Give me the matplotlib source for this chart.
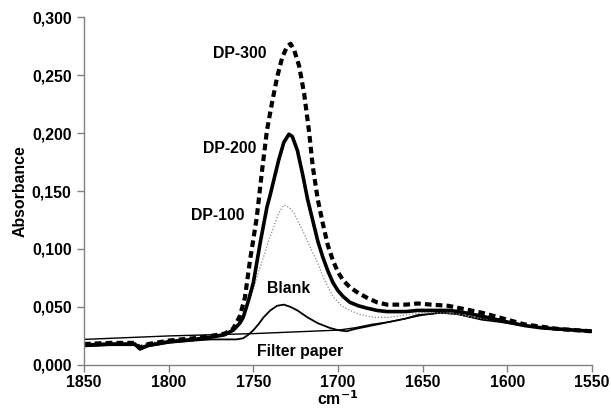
import matplotlib
matplotlib.use("Agg")
import matplotlib.pyplot as plt
from matplotlib.ticker import FuncFormatter

plt.rcParams['font.family'] = ['Liberation Sans', 'DejaVu Sans']

# ---- data ----
dp300_w = [1850, 1835, 1820, 1817, 1812, 1800, 1785, 1775, 1767, 1762, 1758, 1755, 1752, 1748, 1745, 1742,
           1739, 1736, 1733, 1730, 1728, 1726, 1723, 1720, 1717, 1715, 1712, 1709, 1706, 1703, 1700, 1697,
           1693, 1688, 1683, 1677, 1671, 1665, 1660, 1653, 1645, 1635, 1625, 1615, 1600, 1590, 1580, 1570,
           1560, 1550]
dp300_a = [0.018, 0.019, 0.019, 0.015, 0.018, 0.021, 0.023, 0.025, 0.027, 0.031, 0.042, 0.058, 0.090, 0.127,
           0.166, 0.202, 0.226, 0.248, 0.265, 0.275, 0.277, 0.272, 0.258, 0.234, 0.200, 0.172, 0.143, 0.122,
           0.103, 0.090, 0.080, 0.073, 0.067, 0.062, 0.058, 0.054, 0.052, 0.052, 0.052, 0.053, 0.052, 0.051,
           0.048, 0.045, 0.039, 0.035, 0.033, 0.031, 0.030, 0.029]

dp200_w = [1850, 1835, 1820, 1817, 1812, 1800, 1785, 1775, 1767, 1762, 1758, 1756, 1753, 1750, 1746, 1742,
           1740, 1737, 1735, 1732, 1729, 1727, 1724, 1721, 1718, 1715, 1712, 1709, 1706, 1703, 1700, 1697,
           1693, 1688, 1683, 1677, 1671, 1660, 1653, 1645, 1634, 1625, 1615, 1600, 1590, 1580, 1570, 1560,
           1550]
dp200_a = [0.017, 0.018, 0.018, 0.014, 0.017, 0.020, 0.022, 0.024, 0.026, 0.030, 0.036, 0.041, 0.055, 0.071,
           0.105, 0.136, 0.147, 0.165, 0.177, 0.192, 0.199, 0.197, 0.185, 0.165, 0.143, 0.125, 0.107, 0.093,
           0.081, 0.071, 0.064, 0.059, 0.054, 0.051, 0.049, 0.047, 0.046, 0.046, 0.047, 0.047, 0.047, 0.045,
           0.042, 0.037, 0.034, 0.032, 0.031, 0.030, 0.029]

dp100_w = [1850, 1835, 1820, 1817, 1812, 1800, 1785, 1775, 1767, 1760, 1755, 1750, 1747, 1744, 1741, 1738,
           1735, 1732, 1729, 1726, 1722, 1719, 1716, 1712, 1708, 1703, 1698, 1693, 1686, 1679, 1670, 1660,
           1650, 1640, 1630, 1620, 1610, 1600, 1590, 1580, 1570, 1560, 1550]
dp100_a = [0.019, 0.019, 0.019, 0.016, 0.019, 0.021, 0.023, 0.024, 0.025, 0.030, 0.045, 0.065, 0.080, 0.093,
           0.107, 0.119, 0.131, 0.138, 0.136, 0.131, 0.119, 0.110, 0.100, 0.088, 0.073, 0.059, 0.051, 0.047,
           0.043, 0.041, 0.041, 0.043, 0.045, 0.045, 0.044, 0.041, 0.039, 0.037, 0.034, 0.032, 0.031, 0.030, 0.029]

blank_w = [1850, 1835, 1820, 1817, 1812, 1800, 1785, 1775, 1765, 1760, 1756, 1753, 1750, 1747, 1744, 1740,
           1736, 1732, 1728, 1724, 1718, 1712, 1705, 1700, 1695, 1690, 1680, 1670, 1660, 1653, 1645, 1640,
           1630, 1624, 1615, 1604, 1595, 1585, 1575, 1565, 1550]
blank_a = [0.016, 0.017, 0.017, 0.013, 0.016, 0.019, 0.021, 0.022, 0.022, 0.022, 0.023, 0.026, 0.030, 0.035,
           0.041, 0.047, 0.051, 0.052, 0.050, 0.047, 0.041, 0.036, 0.032, 0.030, 0.029, 0.031, 0.034, 0.037,
           0.040, 0.043, 0.044, 0.045, 0.044, 0.042, 0.039, 0.037, 0.035, 0.033, 0.031, 0.030, 0.029]

filter_w = [1850, 1800, 1750, 1700, 1690, 1680, 1670, 1660, 1650, 1640, 1630, 1620, 1610, 1600, 1590, 1580,
            1570, 1560, 1550]
filter_a = [0.022, 0.025, 0.027, 0.030, 0.032, 0.035, 0.037, 0.040, 0.043, 0.045, 0.044, 0.041, 0.039, 0.037,
            0.034, 0.032, 0.031, 0.030, 0.029]

x_ticks = [1850, 1800, 1750, 1700, 1650, 1600, 1550]
y_ticks = [0.0, 0.05, 0.10, 0.15, 0.20, 0.25, 0.30]

labels = ["DP-300", "DP-200", "DP-100", "Blank", "Filter paper"]
label_pos = [(1742, 0.269), (1748, 0.187), (1755.5, 0.129), (1729, 0.0655), (1722.4, 0.012)]
label_ha = ['right', 'right', 'right', 'center', 'center']

# ---- figure ----
fig = plt.figure(figsize=(6.11, 4.18), dpi=100)
ax = fig.add_axes([0.1375, 0.127, 0.8315, 0.832])

ax.plot(filter_w, filter_a, color='black', lw=1.0)
ax.plot(blank_w, blank_a, color='black', lw=1.3)
ax.plot(dp100_w, dp100_a, color='#888888', lw=0.9, linestyle=(0, (1, 1.5)))
ax.plot(dp200_w, dp200_a, color='black', lw=2.6)
ax.plot(dp300_w, dp300_a, color='black', lw=3.0, linestyle=(0, (1.6, 1.0)))

ax.set_xlim(1850, 1550)
ax.set_ylim(0, 0.30)
ax.set_xticks(x_ticks)
ax.set_yticks(y_ticks)
ax.yaxis.set_major_formatter(FuncFormatter(lambda v, p: f"{v:.3f}".replace('.', ',')))

fs = 11.4
for s in ['top', 'right']:
    ax.spines[s].set_visible(False)
for s in ['left', 'bottom']:
    ax.spines[s].set_color('#808080')
    ax.spines[s].set_linewidth(1.0)
ax.tick_params(axis='both', colors='#808080', length=5, width=1, direction='out',
               labelcolor='black', labelsize=fs)
for t in ax.get_xticklabels() + ax.get_yticklabels():
    t.set_fontweight('bold')
ax.tick_params(axis='x', pad=2)
ax.tick_params(axis='y', pad=4)

ax.set_ylabel("Absorbance", fontsize=fs, fontweight='bold', labelpad=3)
ax.set_xlabel("cm$^{\\mathbf{-1}}$", fontsize=fs, fontweight='bold', labelpad=0)

for txt, (xw, ya), ha in zip(labels, label_pos, label_ha):
    ax.text(xw, ya, txt, fontsize=fs, fontweight='bold', ha=ha, va='center')

fig.savefig("out.png", dpi=100)
